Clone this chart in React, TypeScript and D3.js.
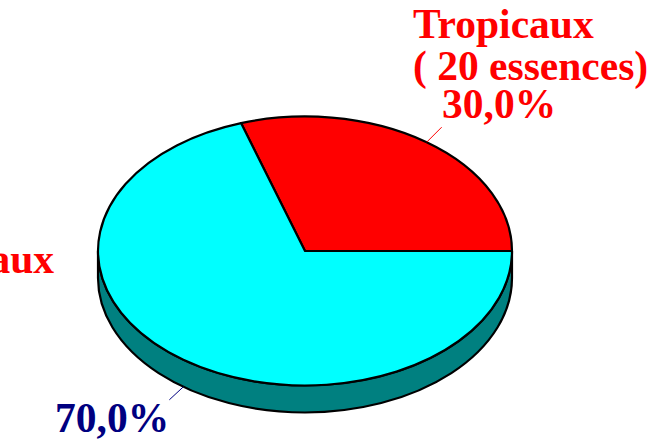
import { useEffect, useRef } from "react";
import * as d3 from "d3";

const categories = ["Tropicaux", "Locaux"];
const subLabels = ["( 20 essences)", ""];
const values = [30, 70];
const percentLabels = ["30,0%", "70,0%"];
const topColors = ["#ff0000", "#00ffff"];
const sideColors = ["#800000", "#008080"];
const textColors = ["#ff0000", "#000080"];

const W = 654;
const H = 439;

const PieChart3D = () => {
  const ref = useRef<SVGSVGElement>(null);

  useEffect(() => {
    const cx = 305;
    const cy = 251;
    const rx = 207;
    const ry = 134.5;
    const depth = 27;
    const k = ry / rx;

    const svg = d3.select(ref.current);
    svg.selectAll("*").remove();

    const slices = d3
      .pie<number>()
      .sort(null)
      .startAngle((-18 * Math.PI) / 180)
      .endAngle((342 * Math.PI) / 180)
      .value((d) => d)(values);

    const g = svg
      .append("g")
      .attr("transform", `translate(${cx},${cy}) scale(1,${k})`);

    // front side (lower half of the ellipse), belongs to the big slice
    const dk = depth / k;
    const side = d3.path();
    side.moveTo(rx, 0);
    side.arc(0, 0, rx, 0, Math.PI);
    side.lineTo(-rx, dk);
    side.arc(0, dk, rx, Math.PI, 0, true);
    side.closePath();
    g.append("path")
      .attr("d", side.toString())
      .attr("fill", sideColors[1])
      .attr("stroke", "black")
      .attr("stroke-width", 2.2)
      .attr("stroke-linejoin", "round")
      .attr("vector-effect", "non-scaling-stroke");

    const arc: any = d3.arc().innerRadius(0).outerRadius(rx);
    g.selectAll("path.slice")
      .data(slices)
      .join("path")
      .attr("class", "slice")
      .attr("d", arc)
      .attr("fill", (d, i) => topColors[i])
      .attr("stroke", "black")
      .attr("stroke-width", 2.2)
      .attr("stroke-linejoin", "round")
      .attr("vector-effect", "non-scaling-stroke");

    // leader lines from the slice mid angle
    const mid = (d: any) => (d.startAngle + d.endAngle) / 2;
    const edge = (a: number, drop: number) => [
      cx + rx * Math.sin(a),
      cy - ry * Math.cos(a) + drop,
    ];
    const leaders = [
      { s: edge(mid(slices[0]), 0), dx: 15, dy: -15 },
      { s: edge(mid(slices[1]), depth), dx: -14, dy: 13 },
    ];
    leaders.forEach((l, i) => {
      svg
        .append("line")
        .attr("x1", l.s[0])
        .attr("y1", l.s[1])
        .attr("x2", l.s[0] + l.dx)
        .attr("y2", l.s[1] + l.dy)
        .attr("stroke", textColors[i])
        .attr("stroke-width", 1);
    });

    const font = (sel: any) =>
      sel
        .attr("font-family", "'Liberation Serif', 'Times New Roman', serif")
        .attr("font-weight", "bold")
        .attr("font-size", 41.5);

    // Tropicaux
    const t0 = svg.append("text").call(font).attr("fill", textColors[0]);
    t0.append("tspan").attr("x", 413).attr("y", 38).text(categories[0]);
    t0.append("tspan").attr("x", 413).attr("y", 80).text(subLabels[0]);
    svg
      .append("text")
      .call(font)
      .attr("fill", textColors[0])
      .attr("x", 442)
      .attr("y", 118)
      .text(percentLabels[0]);

    // Locaux (cut by the left edge)
    svg
      .append("text")
      .call(font)
      .attr("fill", textColors[0])
      .attr("text-anchor", "end")
      .attr("x", 54)
      .attr("y", 273)
      .text(categories[1]);
    svg
      .append("text")
      .call(font)
      .attr("fill", textColors[1])
      .attr("x", 55)
      .attr("y", 432)
      .text(percentLabels[1]);
  });

  return (
    <svg
      ref={ref}
      width={W}
      height={H}
      style={{ position: "absolute", left: 0, top: 0, background: "white" }}
    ></svg>
  );
};

export default function App() {
  return <PieChart3D />;
}
